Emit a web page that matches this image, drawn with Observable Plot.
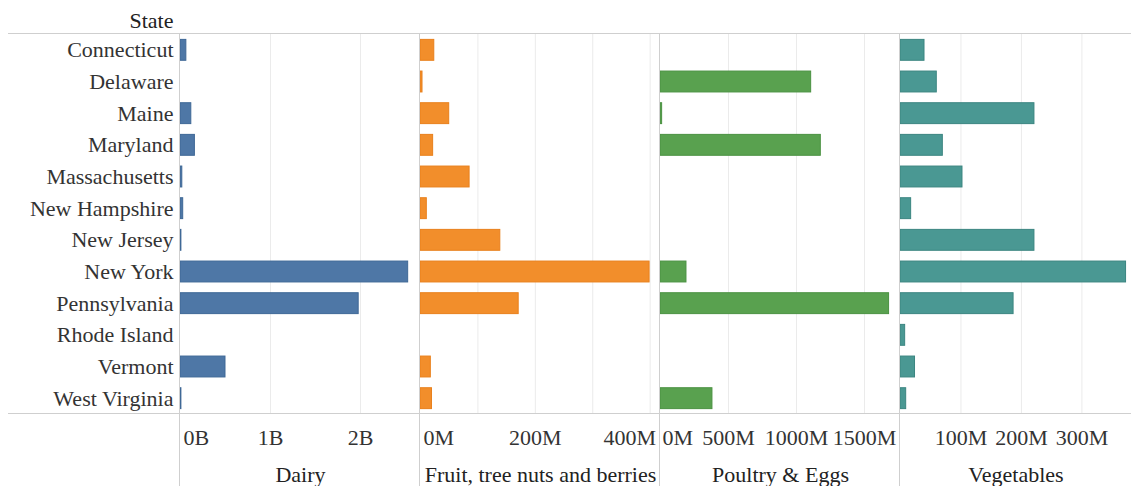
<!DOCTYPE html>
<html>
<head>
<meta charset="utf-8">
<script src="https://cdn.jsdelivr.net/npm/d3@7"></script>
<script src="https://cdn.jsdelivr.net/npm/@observablehq/plot@0.6"></script>
<style>
  html, body { margin: 0; padding: 0; background: #fff; }
  #wrap { position: relative; width: 1131px; height: 486px; overflow: hidden; font-family: "Liberation Serif", Tinos, "DejaVu Serif", "Times New Roman", serif; }
  #wrap svg, #wrap svg text { font-family: "Liberation Serif", Tinos, "DejaVu Serif", "Times New Roman", serif !important; font-size: 22px; }
  .pane { position: absolute; top: 0; }
  .hline { position: absolute; height: 0; border-top: 1.5px solid #cfcfcf; }
  .vline { position: absolute; width: 0; border-left: 1.5px solid #cfcfcf; }
</style>
</head>
<body>
<div id="wrap"></div>
<script>
// ---- data ----
const states = ["Connecticut","Delaware","Maine","Maryland","Massachusetts","New Hampshire","New Jersey","New York","Pennsylvania","Rhode Island","Vermont","West Virginia"];
const categories = ["Dairy","Fruit, tree nuts and berries","Poultry & Eggs","Vegetables"];
// values in dollars (null = no value)
const dairy      = [65e6, null, 120e6, 160e6, 20e6, 30e6, 10e6, 2530e6, 1980e6, null, 500e6, 10e6];
const fruit      = [24e6, 3.5e6, 50e6, 22e6, 85.5e6, 11e6, 139e6, 399e6, 171e6, null, 18e6, 20e6];
const poultry    = [null, 1108e6, 12e6, 1179e6, null, null, null, 191e6, 1681e6, null, null, 382e6];
const vegetables = [39.7e6, 60e6, 221.5e6, 70e6, 102.5e6, 17.6e6, 221.5e6, 373e6, 187e6, 7.7e6, 24e6, 9.4e6];
// tick labels
const dairyTicks = [0, 1e9, 2e9];
const fruitTicks = [0, 200e6, 400e6];
const fruitGrid = [100e6, 200e6, 300e6, 400e6];
const poultryTicks = [0, 500e6, 1000e6, 1500e6];
const vegTicks = [100e6, 200e6, 300e6];

const fmtB = d => (d / 1e9) + "B";
const fmtM = d => (d / 1e6) + "M";

const wrap = document.getElementById("wrap");
const FONT = "'Liberation Serif', Tinos, 'DejaVu Serif', serif";

function panel({values, fill, stroke, domain, grid, tickGroups, fmt, title, left, width, yAxis}) {
  const data = states.map((s, i) => ({state: s, value: values[i]})).filter(d => d.value != null);
  const marks = [
    Plot.gridX(grid, {stroke: "#ebebeb", strokeOpacity: 1, strokeWidth: 1}),
    Plot.barX(data, {x: "value", y: "state", fill, stroke, strokeWidth: 1})
  ];
  if (yAxis) {
    marks.push(Plot.axisY({tickSize: 0, tickPadding: 7, label: null, fill: "#333", fontFamily: FONT}));
    marks.push(Plot.text(["State"], {frameAnchor: "top-left", textAnchor: "end", dx: -7, dy: -13.5, lineAnchor: "middle", fill: "#222", fontFamily: FONT}));
  }
  for (const g of tickGroups) {
    marks.push(Plot.axisX(g.ticks, {tickSize: 0, tickPadding: 15, tickFormat: fmt, textAnchor: g.anchor || "middle", dx: g.dx || 0, label: null, fill: "#333", fontFamily: FONT}));
  }
  marks.push(Plot.text([title], {frameAnchor: "bottom", dy: 60.5, lineAnchor: "middle", fill: "#222", fontFamily: FONT}));
  const chart = Plot.plot({
    width, height: 486,
    marginTop: 34, marginBottom: 72, marginLeft: yAxis ? 180 : 0, marginRight: 0,
    x: {domain, axis: null},
    y: {domain: states, paddingInner: 0.34, paddingOuter: 0.17, round: false, axis: null},
    style: {fontFamily: FONT, fontSize: "22px", color: "#333", background: "transparent", overflow: "visible"},
    marks
  });
  const div = document.createElement("div");
  div.className = "pane";
  div.style.left = left + "px";
  div.appendChild(chart);
  wrap.appendChild(div);
}

panel({values: dairy, fill: "#4e77a6", stroke: "#3f6896", domain: [0, 2.667e9], grid: [1e9, 2e9],
  tickGroups: [{ticks: [0], anchor: "start", dx: 3}, {ticks: [1e9, 2e9]}], fmt: fmtB,
  title: categories[0], left: 0, width: 420, yAxis: true});
panel({values: fruit, fill: "#f28e2b", stroke: "#e9801c", domain: [0, 418e6], grid: fruitGrid,
  tickGroups: [{ticks: [0], anchor: "start", dx: 3}, {ticks: [200e6]}, {ticks: [400e6], anchor: "end", dx: 6}], fmt: fmtM,
  title: categories[1], left: 420, width: 240, yAxis: false});
panel({values: poultry, fill: "#59a14f", stroke: "#4b9242", domain: [0, 1765e6], grid: [500e6, 1000e6, 1500e6],
  tickGroups: [{ticks: [0], anchor: "start", dx: 2}, {ticks: [500e6, 1000e6, 1500e6]}], fmt: fmtM,
  title: categories[2], left: 660, width: 240, yAxis: false});
panel({values: vegetables, fill: "#4a9893", stroke: "#3b8580", domain: [0, 382e6], grid: vegTicks,
  tickGroups: [{ticks: vegTicks}], fmt: fmtM,
  title: categories[3], left: 900, width: 231, yAxis: false});

// pane borders (header / axis rules and pane dividers)
function line(cls, styles) {
  const d = document.createElement("div");
  d.className = cls;
  Object.assign(d.style, styles);
  wrap.appendChild(d);
}
line("hline", {left: "8px", width: "1123px", top: "33px"});
line("hline", {left: "8px", width: "1123px", top: "413px"});
for (const x of [179, 419, 659, 899]) line("vline", {left: x + "px", top: "34px", height: "452px"});
</script>
</body>
</html>
